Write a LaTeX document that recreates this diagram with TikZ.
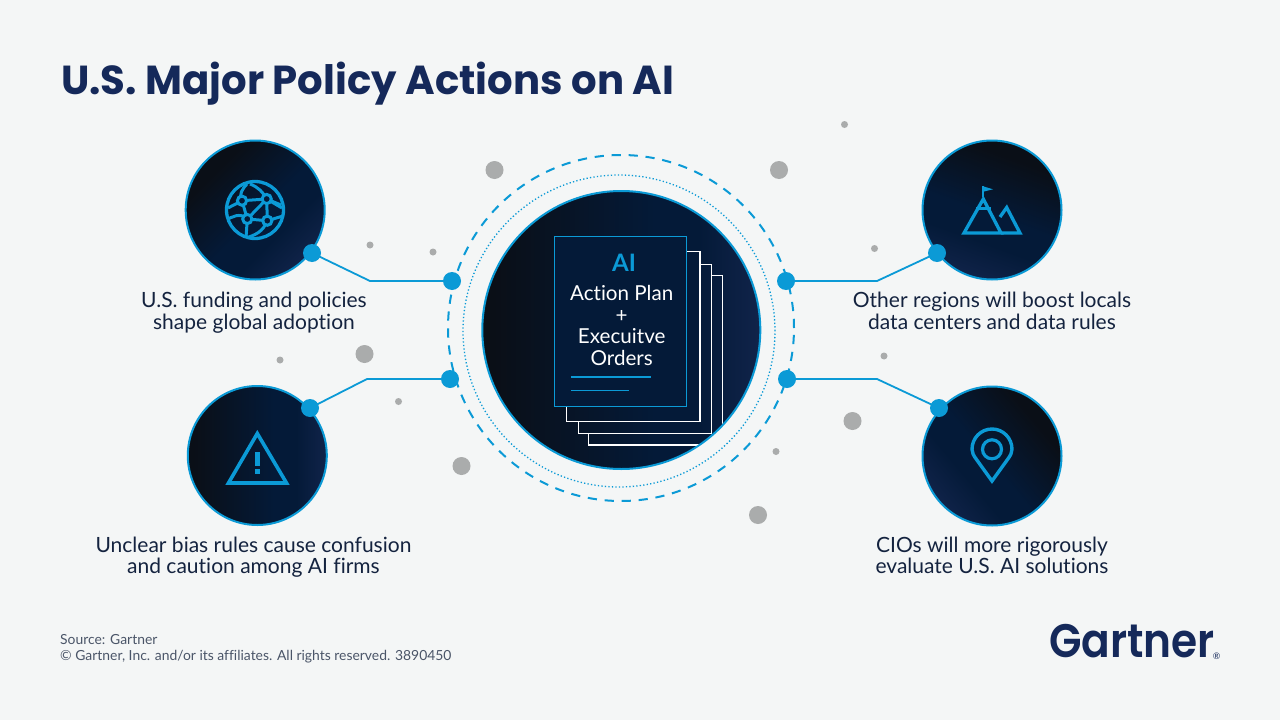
\documentclass[tikz,border=0pt]{standalone}
\usepackage{fontspec}
\setmainfont{Lato}
\newfontfamily\titlefont[FakeStretch=0.993]{Poppins Bold}
\newfontfamily\logofont[FakeStretch=0.9]{Poppins SemiBold}
\newfontfamily\bodyfont[Ligatures=NoCommon]{Lato}
\definecolor{bgc}{HTML}{F4F6F6}
\definecolor{titlec}{HTML}{15295A}
\definecolor{bluec}{HTML}{0B9AD6}
\definecolor{greyc}{HTML}{AAACAC}
\definecolor{textc}{HTML}{14233F}
\definecolor{srcc}{HTML}{4A5568}
\definecolor{orbA}{HTML}{0A0F17}
\definecolor{orbB}{HTML}{041A38}
\definecolor{orbC}{HTML}{14264F}
\pgfdeclareverticalshading{orbshade}{100bp}{color(0bp)=(orbA); color(27bp)=(orbA); color(56bp)=(orbB); color(64bp)=(orbB); color(78bp)=(orbC); color(100bp)=(orbC)}
\pgfdeclareverticalshading{orbdiag}{100bp}{color(0bp)=(orbA); color(30bp)=(orbA); color(52bp)=(orbB); color(62bp)=(orbB); color(80bp)=(orbC); color(100bp)=(orbC)}
\tikzset{
  orb/.style={circle,draw=bluec,line width=2pt,inner sep=0pt,shading=orbshade},
  orbd/.style={circle,draw=bluec,line width=2pt,inner sep=0pt,shading=orbdiag},
  hubdot/.style={circle,fill=bluec,inner sep=0pt,minimum size=18pt},
  link/.style={draw=bluec,line width=1.8pt},
  bigspot/.style={circle,fill=greyc,inner sep=0pt,minimum size=18pt},
  smallspot/.style={circle,fill=greyc,inner sep=0pt,minimum size=7pt},
  label/.style={align=center,text=textc,font=\bodyfont\fontsize{21}{21.6}\selectfont,inner sep=0pt},
  icon/.style={draw=bluec,line width=3.3pt},
  pageline/.style={draw=white,line width=1.1pt},
}
\begin{document}
\begin{tikzpicture}[x=1pt,y=-1pt]
\useasboundingbox (0,0) rectangle (1280,720);
\fill[bgc] (0,0) rectangle (1280,720);
\node[anchor=base west,inner sep=0pt,text=titlec,font=\titlefont\fontsize{40.5}{42}\selectfont] (title) at (61,94.5) {U.S. Major Policy Actions on AI};
% rings
\draw[bluec,line width=2pt,dash pattern=on 9.2pt off 7.8pt] (621,328) circle (173pt);
\draw[bluec,line width=1.3pt,dash pattern=on 1.3pt off 2.2pt] (619,331) circle (156pt);
% grey spots
\node[bigspot] (g1) at (494.5,170) {};
\node[bigspot] (g2) at (779,170) {};
\node[bigspot] (g3) at (364.5,354) {};
\node[bigspot] (g4) at (852.5,421) {};
\node[bigspot] (g5) at (461.5,466) {};
\node[bigspot] (g6) at (758,515) {};
\node[smallspot] (s1) at (844.5,124.5) {};
\node[smallspot] (s2) at (370,245) {};
\node[smallspot] (s3) at (433,252) {};
\node[smallspot] (s4) at (874.5,248.5) {};
\node[smallspot] (s5) at (280,360) {};
\node[smallspot] (s6) at (398.5,401.5) {};
\node[smallspot] (s7) at (884,356) {};
\node[smallspot] (s8) at (776,451.5) {};
% orbs
\node[orb,minimum size=278pt,shading angle=-90] (main) at (621.3,330) {};
\node[orbd,minimum size=139pt,shading angle=-135] (o1) at (255.2,210) {};
\node[orbd,minimum size=139pt,shading angle=160] (o2) at (992,210) {};
\node[orb,minimum size=139pt,shading angle=-90] (o3) at (257.3,455.5) {};
\node[orbd,minimum size=139pt,shading angle=130] (o4) at (992,456) {};
% back pages
\begin{scope}
\clip (621.3,330) circle (138pt);
\draw[pageline] (711.7,275.7) -- (722.3,275.7) -- (722.3,460) (722.3,445) -- (588.7,445) -- (588.7,433.3);
\draw[pageline] (700,264.3) -- (711.7,264.3) -- (711.7,433.3) -- (578.3,433.3) -- (578.3,421.7);
\draw[pageline,line width=1.4pt] (686.7,251.7) -- (700,251.7) -- (700,421.7) -- (566.7,421.7) -- (566.7,406.7);
\end{scope}
% front page
\node[draw=bluec,fill=orbB,line width=1.3pt,inner sep=0pt,minimum width=132.4pt,minimum height=170pt] (page) at (620.5,321.7) {};
\node[font=\bodyfont\bfseries\fontsize{24}{25}\selectfont,text=bluec,inner sep=0pt] (ai) at (624,263) {AI};
\node[font=\bodyfont\fontsize{20.6}{21.7}\selectfont,text=white,align=center,inner sep=0pt] (pagetext) at (621.7,325.5) {Action Plan\\+\\Execuitve\\Orders};
\draw[bluec,line width=1.6pt] (571,377) -- (651,377);
\draw[bluec,line width=1.6pt] (571,390.5) -- (629,390.5);
% connectors
\node[hubdot] (d1) at (312,253) {};
\node[hubdot] (h1) at (452,281) {};
\coordinate (b1) at (370,281);
\node[hubdot] (d2) at (937,253) {};
\node[hubdot] (h2) at (786,281) {};
\coordinate (b2) at (877,281);
\node[hubdot] (d3) at (310,408) {};
\node[hubdot] (h3) at (450,379) {};
\coordinate (b3) at (367,379);
\node[hubdot] (d4) at (939,408) {};
\node[hubdot] (h4) at (787,379) {};
\coordinate (b4) at (877,379);
\draw[link] (d1.center) -- (b1) -- (h1.center);
\draw[link] (d2.center) -- (b2) -- (h2.center);
\draw[link] (d3.center) -- (b3) -- (h3.center);
\draw[link] (d4.center) -- (b4) -- (h4.center);
% globe icon
\begin{scope}
\draw[icon] (255,210) circle (28.5pt);
\clip (255,210) circle (28.5pt);
\draw[bluec,line width=3pt]
 (242,200.7) -- (266.7,199) -- (247.3,219) -- (242,200.7)
 (247.3,219) -- (267.3,220.7) -- (266.7,199)
 (242,200.7) .. controls (238,195) and (243,188) .. (247,184)
 (242,200.7) -- (228,208)
 (247.3,219) .. controls (240,212) and (232,217) .. (226,220)
 (247.3,219) -- (246,238)
 (267.3,220.7) .. controls (263,232) and (255,235) .. (246,238)
 (267.3,220.7) -- (283,216)
 (266.7,199) -- (281,205)
 (266.7,199) .. controls (263,192) and (258,187) .. (250,184)
 (266.7,199) -- (282,208);
\end{scope}
\foreach \p in {(242,200.7),(266.7,199),(247.3,219),(267.3,220.7)}{
 \fill[orbB] \p circle (4.8pt);
 \draw[bluec,line width=3pt] \p circle (4.6pt);
}
% mountain icon
\draw[icon,miter limit=10,line join=miter] (983.3,199) -- (964,233) -- (1001,233) -- cycle;
\draw[bluec,line width=3pt] (976,208.5) -- (990.5,208.5);
\draw[icon,line join=miter] (1000,217) -- (1006.7,207.5) -- (1020,233) -- (1001,233);
\draw[bluec,line width=2.4pt] (983.2,186) -- (983.2,197);
\fill[bluec] (982,186) -- (993,189.3) -- (982,192) -- cycle;
% warning icon
\draw[bluec,line width=3.6pt,line join=miter,miter limit=10] (257.3,433.5) -- (228.5,483) -- (286.5,483) -- cycle;
\fill[bluec] (255,451.7) rectangle (260,465.7);
\fill[bluec] (255,469.3) rectangle (260,474);
% pin icon
\draw[bluec,line width=3.4pt,line join=miter,miter limit=10] (992,481) -- (976.5,459.5) .. controls (973.5,455.5) and (972,452.5) .. (972,449.3) .. controls (972,438) and (981,429) .. (992,429) .. controls (1003,429) and (1012,438) .. (1012,449.3) .. controls (1012,452.5) and (1010.5,455.5) .. (1007.5,459.5) -- cycle;
\draw[bluec,line width=3.2pt] (992,449.3) circle (9.5pt);
% labels
\node[label] (l1) at (254,312.5) {U.S. funding and policies\\shape global adoption};
\node[label] (l2) at (992,311) {Other regions will boost locals\\data centers and data rules};
\node[label] (l3) at (253.5,557) {Unclear bias rules cause confusion\\and caution among AI firms};
\node[label] (l4) at (992,555.5) {CIOs will more rigorously\\evaluate U.S. AI solutions};
% footer
\node[anchor=north west,align=left,inner sep=0pt,text=srcc,font=\bodyfont\fontsize{13.9}{16}\selectfont] (src) at (60,634.5) {Source: Gartner\\\textcopyright{} Gartner, Inc. and/or its affiliates. All rights reserved. 3890450};
\node[anchor=base west,inner sep=0pt,text=titlec,font=\logofont\fontsize{47}{48}\selectfont] (logo) at (1049,657) {Gartner};
\node[anchor=center,inner sep=0pt,text=titlec,font=\bodyfont\fontsize{9}{9}\selectfont] (reg) at (1216.5,656) {\textregistered};
\end{tikzpicture}
\end{document}
